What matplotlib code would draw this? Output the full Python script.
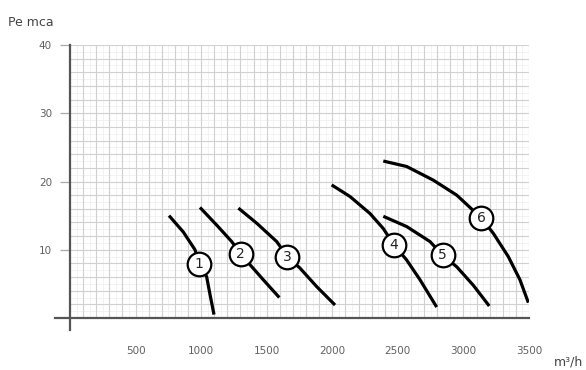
import numpy as np
import matplotlib
matplotlib.use("Agg")
import matplotlib.pyplot as plt

# curves (flow m3/h, pressure mm w.c.)
c1_x = [755, 864, 953, 986, 1042, 1068, 1098]
c1_y = [15.0, 12.6, 10.0, 7.9, 6.05, 3.4, 0.5]
c2_x = [991, 1119, 1233, 1301, 1373, 1474, 1596]
c2_y = [16.2, 13.6, 11.2, 9.4, 7.8, 5.6, 3.0]
c3_x = [1284, 1423, 1576, 1657, 1754, 1881, 2021]
c3_y = [16.1, 13.9, 11.2, 9.0, 7.3, 4.6, 1.9]
c4_x = [1995, 2135, 2288, 2389, 2471, 2567, 2669, 2796]
c4_y = [19.5, 17.8, 15.3, 13.1, 10.7, 8.5, 5.6, 1.6]
c5_x = [2389, 2567, 2745, 2841, 2949, 3075, 3197]
c5_y = [14.9, 13.4, 11.2, 9.2, 7.5, 4.8, 1.76]
c6_x = [2389, 2567, 2770, 2949, 3134, 3228, 3342, 3431, 3495]
c6_y = [23.0, 22.2, 20.2, 18.0, 14.7, 12.4, 9.0, 5.6, 2.25]

curves_x = [c1_x, c2_x, c3_x, c4_x, c5_x, c6_x]
curves_y = [c1_y, c2_y, c3_y, c4_y, c5_y, c6_y]
labels = ["1", "2", "3", "4", "5", "6"]
label_x = [986, 1301, 1657, 2471, 2841, 3134]
label_y = [7.9, 9.4, 9.0, 10.7, 9.2, 14.7]

x_ticks = [500, 1000, 1500, 2000, 2500, 3000, 3500]
y_ticks = [10, 20, 30, 40]

fig = plt.figure(figsize=(5.86, 3.70), dpi=100)
ax = fig.add_axes([70/586, 52/370, 459/586, 273/370])
ax.set_xlim(0, 3500)
ax.set_ylim(0, 40)

# graph paper grid
for v in np.arange(50, 3500, 100):
    ax.axvline(v, color="#f0f0f0", lw=0.6, zorder=0)
for v in np.arange(1, 40, 2):
    ax.axhline(v, color="#f0f0f0", lw=0.6, zorder=0)
for v in np.arange(100, 3501, 100):
    ax.axvline(v, color="#d0d0d0", lw=0.8, zorder=1)
for v in np.arange(2, 41, 2):
    ax.axhline(v, color="#d0d0d0", lw=0.8, zorder=1)

for s in ax.spines.values():
    s.set_visible(False)

# axis lines, running a bit past the origin
ax.plot([-115, 3500], [0, 0], color="#555555", lw=1.6, clip_on=False, zorder=3)
ax.plot([0, 0], [-1.8, 40], color="#555555", lw=1.6, clip_on=False, zorder=3)

for cx, cy in zip(curves_x, curves_y):
    ax.plot(cx, cy, color="black", lw=2.3, solid_capstyle="butt",
            solid_joinstyle="round", zorder=4)

for t, lx, ly in zip(labels, label_x, label_y):
    ax.plot(lx, ly, "o", ms=17, mfc="white", mec="black", mew=1.6, zorder=5)
    ax.text(lx, ly, t, ha="center", va="center", fontsize=10, color="#222222", zorder=6)

ax.set_xticks(x_ticks)
ax.set_xticklabels([str(v) for v in x_ticks])
ax.set_yticks(y_ticks)
ax.set_yticklabels([str(v) for v in y_ticks])
ax.tick_params(axis="x", length=0, pad=20, labelsize=7.5, labelcolor="#606060")
ax.tick_params(axis="y", length=7, width=0.9, color="#aaaaaa", pad=6,
               labelsize=7.5, labelcolor="#606060")

fig.text(8/586, 1 - 22/370, "Pe mca", fontsize=9, color="#444444", va="center", ha="left")
fig.text(583/586, 1 - 362/370, "m³/h", fontsize=9, color="#444444", va="center", ha="right")

fig.savefig("out.png", dpi=100)
